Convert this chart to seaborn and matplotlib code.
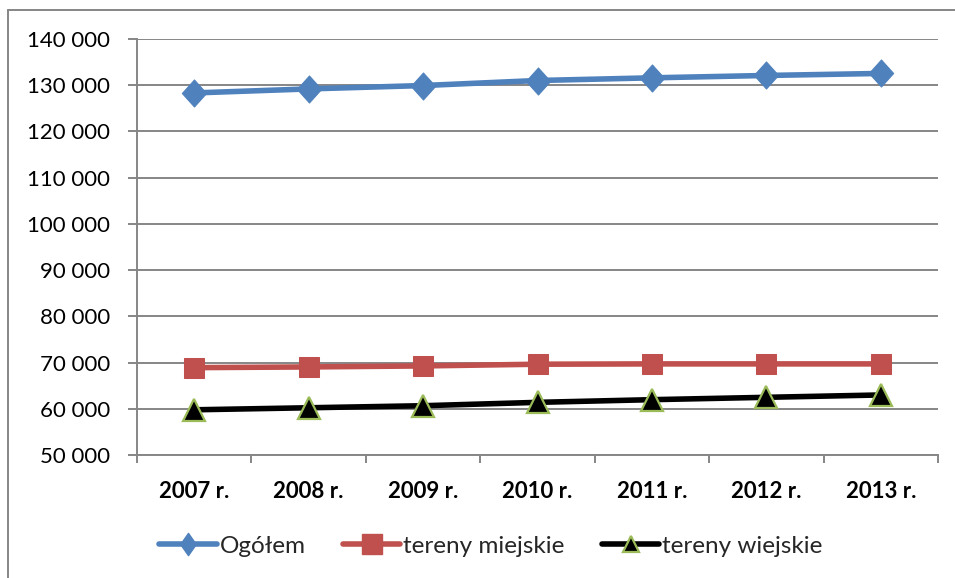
import matplotlib
matplotlib.use("Agg")
import matplotlib.pyplot as plt
import seaborn as sns
import numpy as np
from matplotlib.lines import Line2D
from matplotlib.path import Path

years = ["2007 r.", "2008 r.", "2009 r.", "2010 r.", "2011 r.", "2012 r.", "2013 r."]
ogolem = [128330, 129200, 129930, 131020, 131600, 132110, 132550]
miejskie = [68900, 69050, 69270, 69640, 69710, 69710, 69710]
wiejskie = [59780, 60220, 60660, 61390, 61970, 62480, 62990]
series_names = ["Ogółem", "tereny miejskie", "tereny wiejskie"]
y_ticks = [50000, 60000, 70000, 80000, 90000, 100000, 110000, 120000, 130000, 140000]

sns.set_theme(style="white")
plt.rcParams['font.family'] = ['Lato', 'DejaVu Sans']

W, H = 955, 578
fig = plt.figure(figsize=(W / 100, H / 100), dpi=100)
ax = fig.add_axes([137 / W, 1 - 455 / H, (938 - 137) / W, (455 - 39) / H])

grid_c = "#868686"
blue = "#4F81BD"
red = "#C0504D"
green = "#9BBB59"

def diamond_path(ratio):
    return Path([(0, 1), (ratio, 0), (0, -1), (-ratio, 0), (0, 1)],
                [Path.MOVETO, Path.LINETO, Path.LINETO, Path.LINETO, Path.CLOSEPOLY])

diamond = diamond_path(0.9)
diamond_leg = diamond_path(0.7)

lw = 4.0
x = np.arange(len(years))
sns.lineplot(x=x, y=ogolem, ax=ax, color=blue, linewidth=lw, marker=diamond,
             markersize=19.5, markeredgecolor=blue, markerfacecolor=blue, zorder=3)
sns.lineplot(x=x, y=miejskie, ax=ax, color=red, linewidth=lw, marker="s",
             markersize=14.5, markeredgecolor=red, markerfacecolor=red, zorder=3)
sns.lineplot(x=x, y=wiejskie, ax=ax, color="black", linewidth=lw, marker="^",
             markersize=16, markeredgecolor=green, markerfacecolor="black",
             markeredgewidth=1.6, zorder=3)

ax.set_xlim(-0.5, len(years) - 0.5)
ax.set_ylim(50000, 140000)
ax.set_yticks(y_ticks)
ax.set_yticklabels([f"{v:,}".replace(",", " ") for v in y_ticks])
ax.set_xticks(x)
ax.set_xticklabels(years, fontweight="bold")
ax.set_xticks(np.arange(-0.5, len(years)), minor=True)

ax.grid(axis="y", color=grid_c, linewidth=1.4)
ax.grid(axis="x", visible=False)
ax.set_axisbelow(True)

for s in ["top", "right"]:
    ax.spines[s].set_visible(False)
for s in ["left", "bottom"]:
    ax.spines[s].set_color(grid_c)
    ax.spines[s].set_linewidth(1.4)

ax.tick_params(axis="y", which="major", length=6.5, width=1.4, color=grid_c,
               direction="out", left=True, pad=13, labelsize=16, labelcolor="black")
ax.tick_params(axis="x", which="major", length=0, pad=19, labelsize=16, labelcolor="black")
ax.tick_params(axis="x", which="minor", length=6, width=1.4, color=grid_c,
               direction="out", bottom=True)

handles = [
    Line2D([], [], color=blue, linewidth=lw, marker=diamond_leg, markersize=16,
           markerfacecolor=blue, markeredgecolor=blue),
    Line2D([], [], color=red, linewidth=lw, marker="s", markersize=14,
           markerfacecolor=red, markeredgecolor=red),
    Line2D([], [], color="black", linewidth=lw, marker="^", markersize=12,
           markerfacecolor="black", markeredgecolor=green, markeredgewidth=1.6),
]
fig.legend(handles, series_names, loc="center", bbox_to_anchor=(491 / W, 1 - 546 / H),
           ncol=3, frameon=False, fontsize=17.5, handlelength=2.35, handletextpad=0.12,
           columnspacing=1.55)

# chart area border (left and top visible)
fig.add_artist(Line2D([8 / W, 8 / W], [1 - 10 / H, 0], transform=fig.transFigure,
                      color=grid_c, linewidth=1.4))
fig.add_artist(Line2D([8 / W, 1], [1 - 10 / H, 1 - 10 / H], transform=fig.transFigure,
                      color=grid_c, linewidth=1.4))

fig.savefig("out.png", dpi=100)
